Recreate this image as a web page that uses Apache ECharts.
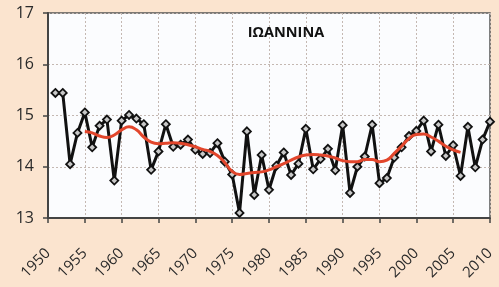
<!DOCTYPE html>
<html lang="el">

<head>
  <meta charset="UTF-8">
  <title>ΙΩΑΝΝΙΝΑ</title>
  <style>
    html, body { margin: 0; padding: 0; background: #fbe4cf; }
  </style>
</head>

<body>
  <div id="main" style="width: 499px;height:287px;"></div>

  <script src="https://cdn.jsdelivr.net/npm/echarts@6/dist/echarts.min.js"></script>
  <script>

  // annual values 1951-2010
  let years = [];
  for (let y = 1951; y <= 2010; y++) years.push(y);

  let temps = [
    15.44, 15.44, 14.05, 14.66, 15.06, 14.38, 14.80, 14.92, 13.73, 14.90,
    15.01, 14.94, 14.83, 13.94, 14.30, 14.83, 14.39, 14.43, 14.53, 14.33,
    14.25, 14.27, 14.46, 14.10, 13.85, 13.10, 14.69, 13.45, 14.23, 13.55,
    14.02, 14.28, 13.84, 14.06, 14.74, 13.95, 14.15, 14.35, 13.93, 14.81,
    13.49, 14.00, 14.20, 14.82, 13.68, 13.78, 14.18, 14.38, 14.60, 14.70,
    14.90, 14.30, 14.82, 14.21, 14.42, 13.82, 14.78, 13.99, 14.53, 14.88
  ];

  // smoothed curve 1955-2006
  let smoothYears = [];
  for (let y = 1955; y <= 2006; y++) smoothYears.push(y);

  let smooth = [
    14.69, 14.66, 14.60, 14.57, 14.62, 14.72, 14.78, 14.72, 14.58, 14.48,
    14.45, 14.46, 14.47, 14.46, 14.43, 14.39, 14.34, 14.30, 14.22, 14.08,
    13.91, 13.85, 13.87, 13.89, 13.90, 13.94, 14.00, 14.06, 14.13, 14.19,
    14.23, 14.24, 14.23, 14.21, 14.17, 14.12, 14.10, 14.10, 14.14, 14.14,
    14.10, 14.13, 14.26, 14.40, 14.55, 14.63, 14.64, 14.58, 14.50, 14.40,
    14.33, 14.28
  ];

  let myChart = echarts.init(document.getElementById('main'));

  let gridLine = { show: true, lineStyle: { color: '#c4b8b2', type: [2, 2], width: 1 } };

  let option = {
    backgroundColor: '#fbe4cf',
    animation: false,
    title: {
      text: 'ΙΩΑΝΝΙΝΑ',
      left: 281,
      top: 20,
      textAlign: 'center',
      textStyle: { fontFamily: 'Open Sans', fontWeight: 'bold', fontSize: 14.5, color: '#111' }
    },
    grid: {
      left: 48, right: 9, top: 13, bottom: 69,
      show: true,
      backgroundColor: '#fbfcfe',
      borderColor: '#555',
      borderWidth: 1.5
    },
    xAxis: {
      type: 'value',
      min: 1950,
      max: 2010,
      interval: 5,
      axisLine: { show: true, lineStyle: { color: '#444', width: 2 } },
      axisTick: { show: true, length: 5, lineStyle: { color: '#444', width: 1.5 } },
      axisLabel: {
        rotate: 45,
        margin: 33,
        formatter: v => String(v),
        fontFamily: 'Open Sans',
        fontSize: 15,
        color: '#2a2a2a'
      },
      splitLine: gridLine
    },
    yAxis: {
      type: 'value',
      min: 13,
      max: 17,
      interval: 1,
      axisLine: { show: true, lineStyle: { color: '#444', width: 2 } },
      axisTick: { show: true, length: 5, lineStyle: { color: '#444', width: 1.5 } },
      axisLabel: {
        margin: 14,
        fontFamily: 'Open Sans',
        fontSize: 16,
        color: '#2a2a2a'
      },
      splitLine: gridLine
    },
    series: [{
      type: 'line',
      data: years.map((y, i) => [y, temps[i]]),
      symbol: 'diamond',
      symbolSize: 8,
      itemStyle: { color: '#c8c8c8', borderColor: '#111', borderWidth: 1.8 },
      lineStyle: { color: '#111', width: 3 },
      z: 2
    },
    {
      type: 'line',
      data: smoothYears.map((y, i) => [y, smooth[i]]),
      smooth: true,
      symbol: 'none',
      lineStyle: { color: '#e2462c', width: 3 },
      z: 3
    }]
  };

  myChart.setOption(option);
  </script>
</body>

</html>
